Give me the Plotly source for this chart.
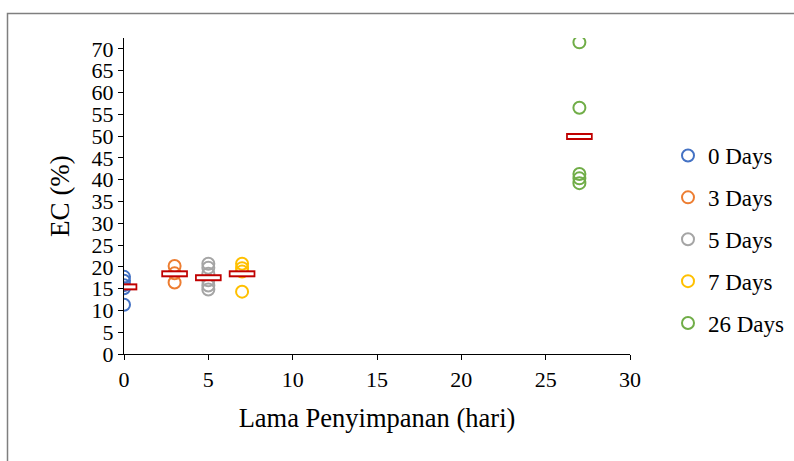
import plotly.graph_objects as go

# Storage time (x position, days) and EC readings for each group
group_names = ["0 Days", "3 Days", "5 Days", "7 Days", "26 Days"]
group_x = [0, 3, 5, 7, 27]
ec_values = [
    [17.7, 16.8, 15.8, 15.1, 11.3],
    [20.2, 18.5, 16.4],
    [20.7, 19.8, 18.4, 16.9, 15.7, 14.8],
    [20.7, 19.7, 18.9, 14.3],
    [71.5, 56.5, 41.3, 40.3, 39.2],
]
group_colors = ["#4472C4", "#ED7D31", "#A5A5A5", "#FFC000", "#70AD47"]
mean_values = [15.4, 18.4, 17.5, 18.4, 49.9]

FONT = "Liberation Serif, Times New Roman, serif"

fig = go.Figure()

for name, x, vals, col in zip(group_names, group_x, ec_values, group_colors):
    fig.add_trace(go.Scatter(
        x=[x] * len(vals), y=vals, mode="markers", name=name,
        legendgroup=name,
        marker=dict(symbol="circle-open", size=12, color=col,
                    line=dict(color=col, width=2)),
    ))

# Mean markers: red outlined bar (thick red dash with a white core)
fig.add_trace(go.Scatter(
    x=group_x, y=mean_values, mode="markers", showlegend=False,
    hoverinfo="skip",
    marker=dict(symbol="line-ew", size=19, color="#C00000",
                line=dict(color="#C00000", width=7)),
))
fig.add_trace(go.Scatter(
    x=group_x, y=mean_values, mode="markers", showlegend=False,
    hoverinfo="skip",
    marker=dict(symbol="line-ew", size=16.5, color="white",
                line=dict(color="white", width=3)),
))

L, R, T, B = 124, 164, 38, 107
W, H = 794, 461
pw, ph = W - L - R, H - T - B

def px_to_paper_x(px):
    return (px - L) / pw

def px_to_paper_y(py):
    return (H - B - py) / ph

fig.add_shape(type="rect", xref="paper", yref="paper",
              x0=px_to_paper_x(7.5), x1=px_to_paper_x(805),
              y0=px_to_paper_y(480), y1=px_to_paper_y(13.5),
              line=dict(color="#7f7f7f", width=1.5), fillcolor="rgba(0,0,0,0)",
              layer="below")

fig.update_layout(
    width=W, height=H,
    margin=dict(l=L, r=R, t=T, b=B, pad=0, autoexpand=False),
    paper_bgcolor="white", plot_bgcolor="white",
    font=dict(family=FONT, color="black", size=22),
    showlegend=True,
    legend=dict(x=px_to_paper_x(668), y=px_to_paper_y(134), xanchor="left",
                yanchor="top", font=dict(family=FONT, size=23, color="black"),
                traceorder="grouped", tracegroupgap=9,
                itemwidth=30, bgcolor="rgba(0,0,0,0)"),
    xaxis=dict(range=[0, 30], tickvals=[0, 5, 10, 15, 20, 25, 30],
               showgrid=False, zeroline=False, showline=True,
               linecolor="black", linewidth=1.3,
               ticks="outside", ticklen=5, tickcolor="black", tickwidth=1.3,
               tickfont=dict(family=FONT, size=22),
               title=dict(text="Lama Penyimpanan (hari)",
                          font=dict(family=FONT, size=26.5), standoff=17)),
    yaxis=dict(range=[0, 72.5], tickvals=list(range(0, 71, 5)),
               showgrid=False, zeroline=False, showline=True,
               linecolor="black", linewidth=1.3,
               ticks="outside", ticklen=5, tickcolor="black", tickwidth=1.3,
               tickfont=dict(family=FONT, size=22),
               title=dict(text="EC (%)", font=dict(family=FONT, size=27),
                          standoff=14)),
)

fig.write_html("out.html")
